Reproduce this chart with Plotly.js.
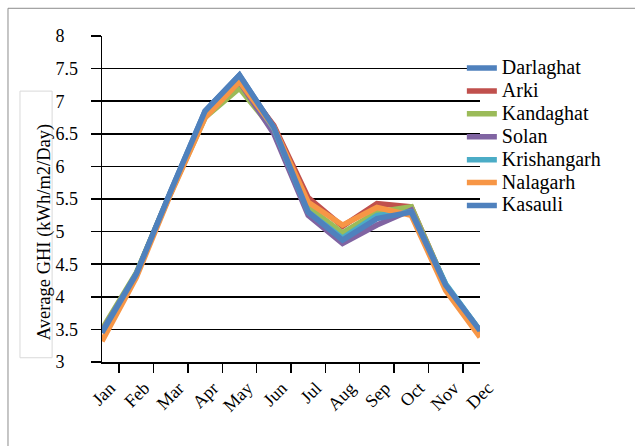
<!DOCTYPE html>
<html>
<head>
<meta charset="utf-8">
<script src="https://cdn.plot.ly/plotly-3.0.1.min.js"></script>
<style>
  html, body { margin: 0; padding: 0; background: #fff; }
  #chart { width: 635px; height: 446px; }
</style>
</head>
<body>
<div id="chart"></div>
<script>
// Monthly average GHI per site.
const months = ['Jan', 'Feb', 'Mar', 'Apr', 'May', 'Jun', 'Jul', 'Aug', 'Sep', 'Oct', 'Nov', 'Dec'];

const yTickVals   = [3, 3.5, 4, 4.5, 5, 5.5, 6, 6.5, 7, 7.5, 8];
const yTickLabels = ['3', '3.5', '4', '4.5', '5', '5.5', '6', '6.5', '7', '7.5', '8'];

const darlaghat   = [3.45, 4.35, 5.62, 6.85, 7.40, 6.60, 5.32, 4.87, 5.22, 5.30, 4.18, 3.48];
const arki        = [3.45, 4.35, 5.60, 6.80, 7.32, 6.63, 5.52, 5.08, 5.43, 5.38, 4.18, 3.45];
const kandaghat   = [3.50, 4.37, 5.60, 6.75, 7.20, 6.55, 5.38, 4.98, 5.30, 5.38, 4.18, 3.45];
const solan       = [3.47, 4.35, 5.60, 6.80, 7.30, 6.50, 5.25, 4.82, 5.10, 5.33, 4.18, 3.47];
const krishangarh = [3.45, 4.35, 5.60, 6.82, 7.35, 6.58, 5.30, 4.90, 5.25, 5.30, 4.20, 3.48];
const nalagarh    = [3.32, 4.30, 5.58, 6.75, 7.30, 6.60, 5.45, 5.10, 5.37, 5.25, 4.10, 3.38];
const kasauli     = [3.45, 4.35, 5.62, 6.85, 7.40, 6.60, 5.30, 4.87, 5.20, 5.30, 4.18, 3.48];

const series = [
    { name: 'Darlaghat',   y: darlaghat,   color: '#4F81BD' },
    { name: 'Arki',        y: arki,        color: '#C0504D' },
    { name: 'Kandaghat',   y: kandaghat,   color: '#9BBB59' },
    { name: 'Solan',       y: solan,       color: '#8064A2' },
    { name: 'Krishangarh', y: krishangarh, color: '#4BACC6' },
    { name: 'Nalagarh',    y: nalagarh,    color: '#F79646' },
    { name: 'Kasauli',     y: kasauli,     color: '#4F81BD' }
];

const font = "'Liberation Serif', 'Times New Roman', serif";

// whole numbers sit left-aligned with the "x.5" labels in the original,
// so pad them with a figure space + punctuation space
const padded = yTickLabels.map(t => t.includes('.') ? t : t + '\u2008\u2007');

// legend row height follows legend.font.size, so the names get a bigger span
const traces = series.map(s => ({
    x: months,
    y: s.y,
    name: `<span style="font-size:20px">${s.name}</span>`,
    type: 'scatter',
    mode: 'lines',
    line: { color: s.color, width: 5.5 }
}));

const layout = {
    width: 635,
    height: 446,
    margin: { l: 102, r: 155, t: 36, b: 84 },
    paper_bgcolor: '#fff',
    plot_bgcolor: 'rgba(0,0,0,0)',
    font: { family: font, size: 18, color: '#000' },
    showlegend: true,
    legend: {
        x: 0.952, xanchor: 'left',
        y: 0.952, yanchor: 'top',
        bgcolor: 'rgba(0,0,0,0)',
        font: { family: font, size: 15.3, color: '#000' },
        tracegroupgap: 0
    },
    xaxis: {
        type: 'category',
        tickson: 'boundaries',
        ticks: 'outside',
        ticklen: 9,
        tickwidth: 1.5,
        tickcolor: '#000',
        tickangle: -45,
        tickfont: { family: font, size: 18 },
        ticklabelstandoff: 7,
        ticklabelshift: 8,
        showline: true,
        linecolor: '#000',
        linewidth: 1.5,
        showgrid: false,
        zeroline: false,
        fixedrange: true
    },
    yaxis: {
        range: [3, 8],
        tickmode: 'array',
        tickvals: yTickVals,
        ticktext: padded,
        ticks: 'outside',
        ticklen: 10,
        tickwidth: 1.5,
        tickcolor: '#000',
        tickfont: { family: font, size: 18 },
        ticklabelstandoff: 9,
        showline: true,
        linecolor: '#000',
        linewidth: 1.5,
        showgrid: true,
        gridcolor: '#000',
        gridwidth: 1.5,
        zeroline: false,
        fixedrange: true
    },
    annotations: [
        { text: 'Average GHI (kWh/m2/Day)', xref: 'paper', yref: 'paper',
          x: -0.1534, y: 0.398, xanchor: 'center', yanchor: 'middle',
          textangle: -90, showarrow: false, font: { family: font, size: 18.5, color: '#000' } }
    ],
    shapes: [
        // outer frame, only top and left edges fall inside the picture
        { type: 'line', xref: 'paper', yref: 'paper', x0: -0.2487, x1: 1.5, y0: 1.085, y1: 1.085,
          line: { color: '#8c8c8c', width: 1 } },
        { type: 'line', xref: 'paper', yref: 'paper', x0: -0.2487, x1: -0.2487, y0: 1.085, y1: -0.3,
          line: { color: '#8c8c8c', width: 1 } },
        // faint box round the axis title
        { type: 'rect', xref: 'paper', yref: 'paper', x0: -0.217, x1: -0.132, y0: 0.013, y1: 0.831,
          line: { color: '#d9d9d9', width: 1 } }
    ]
};

Plotly.newPlot('chart', traces, layout, { displayModeBar: false, staticPlot: true });
</script>
</body>
</html>
